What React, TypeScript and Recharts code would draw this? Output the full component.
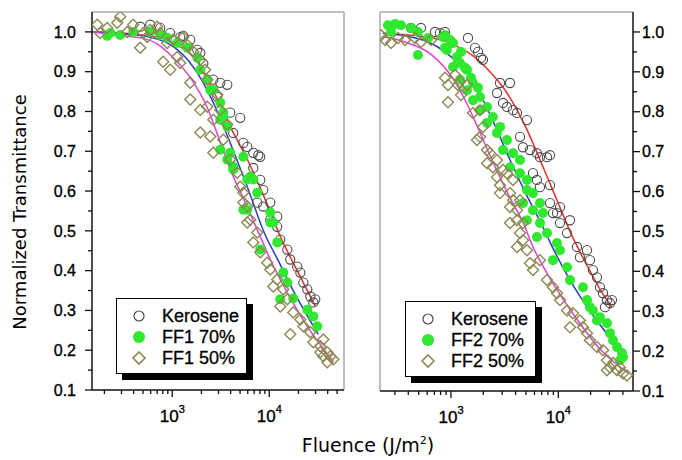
import React from 'react'
import { ComposedChart, Scatter, Line, XAxis, YAxis, ReferenceLine } from 'recharts'

type Pt = [number, number]

// ---- tick values ----
const yTicks = [0.1, 0.15, 0.2, 0.25, 0.3, 0.35, 0.4, 0.45, 0.5, 0.55, 0.6, 0.65, 0.7, 0.75, 0.8, 0.85, 0.9, 0.95, 1.0]
const xTicksLeft = [200, 300, 400, 500, 600, 700, 800, 900, 1000, 2000, 3000, 4000, 5000, 6000, 7000, 8000, 9000, 10000, 20000, 30000, 40000, 50000]
const xTicksRight = [300, 400, 500, 600, 700, 800, 900, 1000, 2000, 3000, 4000, 5000, 6000, 7000, 8000, 9000, 10000, 20000, 30000, 40000]
const domainLeft: [number, number] = [149, 58900]
const domainRight: [number, number] = [218, 49700]

// ---- left panel (FF1) ----
const keroseneL: Pt[] = [
  [468, 1.013], [593, 1.018], [752, 1.01], [953, 0.997], [1209, 0.987], [1300, 0.99], [1534, 0.98], [1812, 0.955],
  [1945, 0.947], [2090, 0.92], [2650, 0.88], [3125, 0.872], [3690, 0.867], [2910, 0.837], [3960, 0.797], [5020, 0.784],
  [4250, 0.746], [5400, 0.721], [5930, 0.711], [6840, 0.696], [7700, 0.69], [8070, 0.686], [6840, 0.658], [8070, 0.628],
  [8670, 0.603], [7520, 0.571], [8670, 0.561], [10240, 0.571], [12080, 0.536], [10240, 0.528], [12080, 0.51], [12970, 0.478],
  [15350, 0.453], [16450, 0.428], [19430, 0.41], [20900, 0.395], [22450, 0.37], [24660, 0.353], [26490, 0.335], [28450, 0.32],
  [29800, 0.328],
]
const ff1_70: Pt[] = [
  [214, 0.99], [230, 0.997], [291, 0.992], [396, 1.0], [593, 1.0], [752, 0.992], [888, 0.985], [1126, 0.972], [1429, 0.96],
  [1812, 0.935], [1945, 0.905], [2296, 0.88], [2466, 0.854], [2650, 0.854], [3125, 0.822], [3357, 0.797], [3125, 0.779],
  [3357, 0.787], [3690, 0.762], [3125, 0.704], [3690, 0.679], [3960, 0.696], [4250, 0.661], [4250, 0.654], [5400, 0.686],
  [5930, 0.629], [6370, 0.636], [6840, 0.629], [7520, 0.596], [5400, 0.553], [5930, 0.553], [10240, 0.546], [10240, 0.521],
  [10990, 0.521], [12080, 0.471], [8070, 0.453], [13930, 0.395], [15350, 0.37], [12970, 0.328], [17660, 0.33], [24660, 0.302],
  [28450, 0.285], [31260, 0.26],
]
const ff1_50: Pt[] = [
  [169, 1.018], [181, 0.997], [214, 1.01], [271, 1.023], [291, 1.038], [344, 1.0], [396, 1.018], [502, 0.997], [552, 0.987],
  [593, 1.005], [700, 1.013], [752, 0.997], [888, 0.972], [468, 0.96], [807, 0.925], [953, 0.905], [1024, 0.98], [1126, 0.937],
  [1298, 0.987], [1209, 0.922], [1429, 0.967], [1645, 0.95], [1945, 0.93], [2180, 0.905], [1534, 0.872], [1534, 0.83],
  [1945, 0.804], [2296, 0.812], [2296, 0.88], [2650, 0.779], [2466, 0.737], [1945, 0.747], [2650, 0.696], [2910, 0.842],
  [3125, 0.804], [3357, 0.729], [3690, 0.767], [3960, 0.679], [4680, 0.646], [5020, 0.611], [5400, 0.596], [5400, 0.571],
  [5930, 0.561], [6370, 0.528], [5930, 0.521], [7520, 0.496], [6840, 0.471], [8070, 0.446], [9530, 0.42], [10240, 0.403],
  [12080, 0.378], [10990, 0.36], [13930, 0.353], [12970, 0.31], [15350, 0.328], [16450, 0.24], [17660, 0.295], [20900, 0.277],
  [22450, 0.26], [26490, 0.245], [28450, 0.22], [33570, 0.21], [36060, 0.227], [39640, 0.195], [42590, 0.185], [45700, 0.177],
  [39640, 0.17], [36060, 0.185], [33570, 0.195],
]
const fitKeroseneL: Pt[] = [
  [149, 1.0], [400, 0.995], [800, 0.983], [1200, 0.963], [1850, 0.925], [2650, 0.852], [3960, 0.762], [5930, 0.68],
  [8480, 0.596], [12970, 0.486], [19400, 0.4], [29800, 0.31],
]
const fit70L: Pt[] = [
  [149, 1.0], [500, 0.99], [1000, 0.965], [1500, 0.925], [2000, 0.88], [2650, 0.822], [3960, 0.721], [5930, 0.611],
  [9070, 0.49], [12080, 0.43], [17660, 0.35], [32000, 0.24],
]
const fit50L: Pt[] = [
  [149, 1.0], [312, 0.99], [468, 0.985], [700, 0.97], [1024, 0.935], [1534, 0.885], [2296, 0.81], [2750, 0.76],
  [3960, 0.655], [5930, 0.56], [8070, 0.486], [10240, 0.428], [15350, 0.345], [24660, 0.26], [45700, 0.172],
]

// ---- right panel (FF2) ----
const keroseneR: Pt[] = [
  [424, 1.01], [525, 1.01], [710, 1.0], [879, 1.0], [789, 0.997], [1440, 0.985], [1675, 0.96], [1786, 0.95], [1905, 0.935],
  [1987, 0.93], [2864, 0.872], [3550, 0.872], [2685, 0.847], [3056, 0.822], [3326, 0.812], [3786, 0.804], [4125, 0.797],
  [5106, 0.779], [4398, 0.737], [4690, 0.711], [5445, 0.704], [6320, 0.696], [6747, 0.686], [7850, 0.686], [8370, 0.691],
  [5810, 0.646], [6320, 0.629], [6747, 0.611], [8370, 0.616], [8370, 0.571], [8925, 0.546], [10380, 0.561], [9730, 0.546],
  [10380, 0.521], [12060, 0.496], [12860, 0.528], [14930, 0.461], [15920, 0.435], [18510, 0.453], [19730, 0.428],
  [21020, 0.403], [22950, 0.385], [24460, 0.36], [26120, 0.345], [28430, 0.328], [30330, 0.32], [27250, 0.31], [31640, 0.328],
]
const ff2_70: Pt[] = [
  [259, 1.017], [301, 1.02], [342, 1.017], [276, 1.0], [424, 1.01], [492, 1.0], [611, 0.985], [492, 0.942], [879, 0.992],
  [1000, 0.975], [879, 0.96], [1240, 0.95], [1162, 0.925], [1351, 0.91], [1535, 0.885], [1786, 0.86], [842, 0.987],
  [979, 0.98], [1044, 0.972], [917, 0.955], [1137, 0.937], [1213, 0.922], [1044, 0.912], [1410, 0.905], [1213, 0.88],
  [1604, 0.872], [1410, 0.854], [1864, 0.837], [1604, 0.829], [2168, 0.812], [1864, 0.804], [2460, 0.787], [2168, 0.772],
  [2864, 0.762], [2685, 0.747], [3326, 0.729], [3056, 0.704], [3786, 0.696], [4398, 0.679], [3550, 0.661], [4398, 0.646],
  [5106, 0.629], [5106, 0.604], [5810, 0.596], [6747, 0.571], [4690, 0.571], [5810, 0.553], [7195, 0.546], [5106, 0.528],
  [6747, 0.521], [7850, 0.496], [6320, 0.486], [9730, 0.471], [10380, 0.453], [8925, 0.428], [12060, 0.41], [12860, 0.378],
  [17000, 0.36], [18510, 0.328], [19730, 0.31], [21020, 0.302], [24460, 0.285], [22950, 0.277], [28430, 0.27],
  [30330, 0.245], [32380, 0.227], [35250, 0.21], [39260, 0.195], [40100, 0.185], [37580, 0.177],
]
const ff2_50: Pt[] = [
  [223, 0.992], [243, 0.98], [276, 0.972], [321, 0.985], [373, 0.98], [461, 0.985], [525, 0.975], [652, 0.98], [879, 0.885],
  [938, 0.867], [1090, 0.892], [1162, 0.867], [938, 0.824], [1240, 0.842], [1213, 0.875], [1410, 0.867], [1864, 0.804],
  [1604, 0.797], [1864, 0.737], [2168, 0.704], [2168, 0.671], [2460, 0.661], [2685, 0.636], [2864, 0.616], [3326, 0.646],
  [3786, 0.629], [2864, 0.596], [3786, 0.578], [4125, 0.553], [4125, 0.528], [1747, 0.729], [1987, 0.762], [2307, 0.696],
  [2685, 0.679], [3056, 0.654], [3550, 0.596], [4398, 0.578], [4690, 0.521], [3550, 0.561], [3550, 0.521], [4398, 0.496],
  [4690, 0.478], [4125, 0.461], [5106, 0.453], [5445, 0.42], [5810, 0.403], [6747, 0.428], [7850, 0.378], [8925, 0.36],
  [9730, 0.345], [10380, 0.328], [12060, 0.302], [13700, 0.295], [12860, 0.26], [15920, 0.277], [17000, 0.26], [18510, 0.245],
  [19730, 0.227], [22950, 0.21], [26120, 0.202], [28430, 0.177], [30330, 0.159], [32380, 0.17], [35250, 0.152],
  [37580, 0.159], [40100, 0.144], [43650, 0.139], [28430, 0.152],
]
const fitKeroseneR: Pt[] = [
  [232, 0.997], [680, 0.985], [1213, 0.96], [1604, 0.94], [2307, 0.9], [3326, 0.847], [5106, 0.755], [6747, 0.68],
  [8370, 0.62], [10380, 0.56], [12860, 0.5], [18510, 0.415], [24460, 0.355], [31640, 0.31],
]
const fit70R: Pt[] = [
  [232, 0.997], [548, 0.98], [979, 0.94], [1503, 0.887], [1987, 0.83], [2685, 0.754], [3550, 0.679], [5106, 0.589],
  [7195, 0.511], [8370, 0.473], [12860, 0.378], [21020, 0.29], [40100, 0.195],
]
const fit50R: Pt[] = [
  [232, 0.988], [373, 0.975], [665, 0.942], [1021, 0.887], [1351, 0.83], [1822, 0.754], [2410, 0.679], [3474, 0.589],
  [4896, 0.511], [5560, 0.473], [8560, 0.378], [14030, 0.29], [25500, 0.2], [43650, 0.147],
]

const legendLeft = ['Kerosene', 'FF1 70%', 'FF1 50%']
const legendRight = ['Kerosene', 'FF2 70%', 'FF2 50%']

const C = {
  ker: '#4a4a4a',
  green: '#2fe82f',
  olive: '#8d8852',
  red: '#e8302a',
  blue: '#2a3fc0',
  magenta: '#e040d8',
  axis: '#111',
  frame: '#aaa',
}
const SANS = '"Liberation Sans", Arial, sans-serif'
const TITLE = '"DejaVu Sans", Verdana, sans-serif'

const toObj = (a: Pt[]) => a.map(([x, y]) => ({ x, y }))

const OpenCircle = (p: any) => <circle cx={p.cx} cy={p.cy} r={4.6} fill="none" stroke={C.ker} strokeWidth={1.1} />
const Dot = (p: any) => <circle cx={p.cx} cy={p.cy} r={5} fill={C.green} />
const Diamond = (p: any) => {
  const s = 5.5
  return (
    <path
      d={`M${p.cx},${p.cy - s}L${p.cx + s},${p.cy}L${p.cx},${p.cy + s}L${p.cx - s},${p.cy}Z`}
      fill="none"
      stroke={C.olive}
      strokeWidth={1.4}
    />
  )
}

const isMajorY = (v: number) => Math.abs(v * 10 - Math.round(v * 10)) < 1e-6

// tick labels in the source look heavy, a thin stroke thickens them a bit
const labelProps = { fill: '#000', stroke: '#000', strokeWidth: 0.35, fontFamily: SANS }

const XTick = (props: any) => {
  const { x, y, payload } = props
  const e = Math.log10(payload.value)
  const major = Math.abs(e - Math.round(e)) < 1e-6
  return (
    <g>
      <line x1={x} x2={x} y1={y} y2={y + (major ? 7 : 4)} stroke={C.axis} strokeWidth={1.3} />
      {major && (
        <text x={x} y={y + 32} textAnchor="middle" fontSize={17} {...labelProps}>
          10<tspan dy={-9} fontSize={11}>{Math.round(e)}</tspan>
        </text>
      )}
    </g>
  )
}

const YTickLeft = (props: any) => {
  const { x, y, payload } = props
  const major = isMajorY(payload.value)
  return (
    <g>
      <line x1={x - (major ? 7 : 4)} x2={x} y1={y} y2={y} stroke={C.axis} strokeWidth={1.3} />
      {major && (
        <text x={x - 16} y={y} dy="0.36em" textAnchor="end" fontSize={16} {...labelProps}>
          {payload.value.toFixed(1)}
        </text>
      )}
    </g>
  )
}

const YTickRight = (props: any) => {
  const { x, y, payload } = props
  const major = isMajorY(payload.value)
  return (
    <g>
      <line x1={x} x2={x + (major ? 7 : 4)} y1={y} y2={y} stroke={C.axis} strokeWidth={1.3} />
      {major && (
        <text x={x + 9} y={y} dy="0.36em" textAnchor="start" fontSize={16} {...labelProps}>
          {payload.value.toFixed(1)}
        </text>
      )}
    </g>
  )
}

function Panel({ side, ker, d70, d50, fk, f70, f50 }: { side: 'left' | 'right'; ker: Pt[]; d70: Pt[]; d50: Pt[]; fk: Pt[]; f70: Pt[]; f50: Pt[] }) {
  const isLeft = side === 'left'
  const domain = isLeft ? domainLeft : domainRight
  return (
    <ComposedChart
      width={isLeft ? 350 : 342}
      height={460}
      margin={isLeft ? { top: 12, right: 6, bottom: 30, left: 0 } : { top: 12, right: 0, bottom: 29, left: 40 }}
    >
      <XAxis
        dataKey="x"
        type="number"
        scale="log"
        domain={domain}
        allowDataOverflow
        ticks={isLeft ? xTicksLeft : xTicksRight}
        interval={0}
        tick={XTick}
        tickLine={false}
        tickSize={0}
        tickMargin={0}
        height={40}
        axisLine={{ stroke: C.axis, strokeWidth: 1.5 }}
      />
      <YAxis
        dataKey="y"
        type="number"
        orientation={isLeft ? 'left' : 'right'}
        domain={[0.1, 1.05]}
        allowDataOverflow
        ticks={yTicks}
        interval={0}
        tick={isLeft ? YTickLeft : YTickRight}
        tickLine={false}
        tickSize={0}
        tickMargin={0}
        width={isLeft ? 92 : 49}
        axisLine={{ stroke: C.axis, strokeWidth: 1.5 }}
      />
      <ReferenceLine y={1.05} stroke={C.frame} strokeWidth={1.5} />
      <ReferenceLine x={isLeft ? domain[1] : domain[0]} stroke={C.frame} strokeWidth={1.5} />
      <Scatter data={toObj(ker)} dataKey="y" shape={OpenCircle} isAnimationActive={false} />
      <Scatter data={toObj(d70)} dataKey="y" shape={Dot} isAnimationActive={false} />
      <Scatter data={toObj(d50)} dataKey="y" shape={Diamond} isAnimationActive={false} />
      <Line data={toObj(fk)} dataKey="y" type="monotone" stroke={C.red} strokeWidth={1.5} dot={false} isAnimationActive={false} />
      <Line data={toObj(f70)} dataKey="y" type="monotone" stroke={C.blue} strokeWidth={1.5} dot={false} isAnimationActive={false} />
      <Line data={toObj(f50)} dataKey="y" type="monotone" stroke={C.magenta} strokeWidth={1.5} dot={false} isAnimationActive={false} />
    </ComposedChart>
  )
}

function LegendBox({ left, top, labels }: { left: number; top: number; labels: string[] }) {
  const rows = [18, 39, 60]
  const symbols = [
    <circle cx={8} cy={8} r={5} fill="none" stroke={C.ker} strokeWidth={1.2} />,
    <circle cx={8} cy={8} r={6} fill={C.green} />,
    <path d="M8,2L14,8L8,14L2,8Z" fill="none" stroke={C.olive} strokeWidth={1.6} />,
  ]
  return (
    <div
      style={{
        position: 'absolute',
        left,
        top,
        width: 131,
        height: 76,
        background: '#fff',
        border: '1.5px solid #000',
        boxShadow: '6px 6px 0 #000',
        boxSizing: 'border-box',
      }}
    >
      {labels.map((l, i) => (
        <React.Fragment key={l}>
          <svg width={16} height={16} style={{ position: 'absolute', left: 14, top: rows[i] - 9 }}>
            {symbols[i]}
          </svg>
          <div
            style={{
              position: 'absolute',
              left: 45,
              top: rows[i] - 12,
              fontFamily: SANS,
              fontSize: 18,
              lineHeight: '22px',
              color: '#000',
              whiteSpace: 'nowrap',
              WebkitTextStroke: '0.3px #000',
            }}
          >
            {l}
          </div>
        </React.Fragment>
      ))}
    </div>
  )
}

export default function App() {
  return (
    <div style={{ position: 'absolute', left: 0, top: 0, width: 682, height: 460, background: '#fff', overflow: 'hidden' }}>
      <svg width={682} height={460} style={{ position: 'absolute', left: 0, top: 0 }}>
        <text
          transform="translate(26,212) rotate(-90)"
          textAnchor="middle"
          fontSize={18}
          fontFamily={TITLE}
          fill="#000"
        >
          Normalized Transmittance
        </text>
        <text x={368} y={452} textAnchor="middle" fontSize={19} fontFamily={TITLE} fill="#000">
          Fluence (J/m<tspan dy={-8} fontSize={11}>2</tspan>
          <tspan dy={8}>)</tspan>
        </text>
      </svg>
      <div style={{ position: 'absolute', left: 0, top: 0 }}>
        <Panel side="left" ker={keroseneL} d70={ff1_70} d50={ff1_50} fk={fitKeroseneL} f70={fit70L} f50={fit50L} />
      </div>
      <div style={{ position: 'absolute', left: 340, top: 0 }}>
        <Panel side="right" ker={keroseneR} d70={ff2_70} d50={ff2_50} fk={fitKeroseneR} f70={fit70R} f50={fit50R} />
      </div>
      <LegendBox left={116} top={298} labels={legendLeft} />
      <LegendBox left={405} top={301} labels={legendRight} />
    </div>
  )
}
